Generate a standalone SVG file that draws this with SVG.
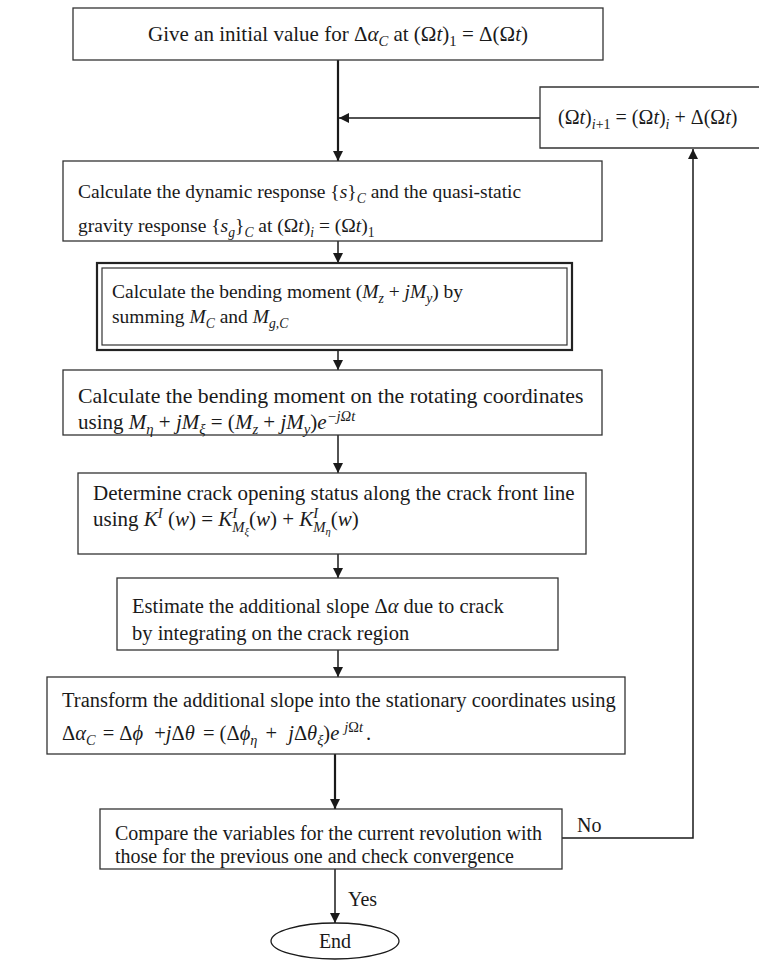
<svg xmlns="http://www.w3.org/2000/svg" width="759" height="971" viewBox="0 0 759 971">
<defs>
<marker id="ah" viewBox="0 0 10 10" refX="10" refY="5" markerWidth="10" markerHeight="11" markerUnits="userSpaceOnUse" orient="auto"><path d="M0,0 L10,5 L0,10 Z" fill="#1a1a1a"/></marker>
<style>
text{font-family:"Liberation Serif","Times New Roman",serif;font-size:20px;fill:#1a1a1a}
.i{font-style:italic}
.s{font-size:70%}
.xs{font-size:50%}
.box{fill:#fff;stroke:#333;stroke-width:1.3}
.ln{fill:none;stroke:#1a1a1a;stroke-width:1.5}
.lt{fill:none;stroke:#1a1a1a;stroke-width:2.2}
</style>
</defs>
<rect width="759" height="971" fill="#fff"/>
<g id="connectors">
<line class="lt" x1="338" y1="60" x2="338" y2="161" marker-end="url(#ah)"/>
<line class="ln" x1="540" y1="118" x2="339" y2="118" marker-end="url(#ah)"/>
<line class="ln" x1="338" y1="241" x2="338" y2="263" marker-end="url(#ah)"/>
<line class="ln" x1="338" y1="350" x2="338" y2="370" marker-end="url(#ah)"/>
<line class="ln" x1="338" y1="435" x2="338" y2="473" marker-end="url(#ah)"/>
<line class="ln" x1="338" y1="554" x2="338" y2="578" marker-end="url(#ah)"/>
<line class="ln" x1="338" y1="650" x2="338" y2="677" marker-end="url(#ah)"/>
<line class="lt" x1="335" y1="754" x2="335" y2="809" marker-end="url(#ah)"/>
<polyline class="ln" points="562,838 693,838 693,149" marker-end="url(#ah)"/>
<line class="ln" x1="335" y1="869" x2="335" y2="923" marker-end="url(#ah)"/>
<text x="577" y="832">No</text>
<text x="348" y="906">Yes</text>
</g>
<g id="n1">
<rect class="box" x="73" y="8" width="530" height="52"/>
<text x="338" y="41" text-anchor="middle" style="font-size:21px">Give an initial value for Δ<tspan class="i">α</tspan><tspan class="i s" dy="5">C</tspan><tspan dy="-5"> at (Ω</tspan><tspan class="i">t</tspan>)<tspan class="s" dy="5">1</tspan><tspan dy="-5"> = Δ(Ω</tspan><tspan class="i">t</tspan>)</text>
</g>
<g id="n_update">
<polyline class="box" points="759,87 540,87 540,148 759,148"/>
<text x="558" y="124" style="font-size:20px">(Ω<tspan class="i">t</tspan>)<tspan class="i s" dy="5">i</tspan><tspan class="s" dy="0">+1</tspan><tspan dy="-5"> = (Ω</tspan><tspan class="i">t</tspan>)<tspan class="i s" dy="5">i</tspan><tspan dy="-5"> + Δ(Ω</tspan><tspan class="i">t</tspan>)</text>
</g>
<g id="n2">
<rect class="box" x="63" y="161" width="539" height="80"/>
<text x="78" y="198" style="font-size:19.5px">Calculate the dynamic response {<tspan class="i">s</tspan>}<tspan class="i s" dy="5">C</tspan><tspan dy="-5"> and the quasi-static</tspan></text>
<text x="78" y="232" style="font-size:19.5px">gravity response {<tspan class="i">s</tspan><tspan class="i s" dy="5">g</tspan><tspan dy="-5">}</tspan><tspan class="i s" dy="5">C</tspan><tspan dy="-5"> at (Ω</tspan><tspan class="i">t</tspan>)<tspan class="i s" dy="5">i</tspan><tspan dy="-5"> = (Ω</tspan><tspan class="i">t</tspan>)<tspan class="s" dy="5">1</tspan></text>
</g>
<g id="n3">
<rect x="97" y="263" width="475" height="87" fill="#fff" stroke="#222" stroke-width="2.2"/>
<rect x="102" y="268" width="465" height="77" fill="none" stroke="#333" stroke-width="1.2"/>
<text x="112" y="298" style="font-size:19.5px">Calculate the bending moment (<tspan class="i">M</tspan><tspan class="i s" dy="5">z</tspan><tspan dy="-5"> + </tspan><tspan class="i">jM</tspan><tspan class="i s" dy="5">y</tspan><tspan dy="-5">) by</tspan></text>
<text x="112" y="323" style="font-size:19.5px">summing <tspan class="i">M</tspan><tspan class="i s" dy="5">C</tspan><tspan dy="-5"> and </tspan><tspan class="i">M</tspan><tspan class="i s" dy="5">g,C</tspan></text>
</g>
<g id="n4">
<rect class="box" x="63" y="370" width="539" height="65"/>
<text x="78" y="403" style="font-size:21.8px">Calculate the bending moment on the rotating coordinates</text>
<text x="78" y="429" style="font-size:21px">using <tspan class="i">M</tspan><tspan class="i s" dy="5">η</tspan><tspan dy="-5"> + </tspan><tspan class="i">jM</tspan><tspan class="i s" dy="5">ξ</tspan><tspan dy="-5"> = (</tspan><tspan class="i">M</tspan><tspan class="i s" dy="5">z</tspan><tspan dy="-5"> + </tspan><tspan class="i">jM</tspan><tspan class="i s" dy="5">y</tspan><tspan dy="-5">)</tspan><tspan class="i">e</tspan><tspan class="i s" dy="-8">−jΩt</tspan></text>
</g>
<g id="n5">
<rect class="box" x="78" y="473" width="508" height="81"/>
<text x="93" y="500" style="font-size:21px">Determine crack opening status along the crack front line</text>
<text x="93" y="526" style="font-size:21px">using <tspan class="i">K</tspan><tspan class="i s" dy="-8">I</tspan><tspan dy="8"> (</tspan><tspan class="i">w</tspan>) = <tspan class="i">K</tspan><tspan class="i s" dy="-8">I</tspan><tspan class="i s" dx="-5" dy="14">M</tspan><tspan class="i xs" dy="3">ξ</tspan><tspan dy="-9">(</tspan><tspan class="i">w</tspan>) + <tspan class="i">K</tspan><tspan class="i s" dy="-8">I</tspan><tspan class="i s" dx="-5" dy="14">M</tspan><tspan class="i xs" dy="3">η</tspan><tspan dy="-9">(</tspan><tspan class="i">w</tspan>)</text>
</g>
<g id="n6">
<rect class="box" x="117" y="578" width="441" height="72"/>
<text x="132" y="613" style="font-size:20.5px">Estimate the additional slope Δ<tspan class="i">α</tspan> due to crack</text>
<text x="132" y="640" style="font-size:20.5px">by integrating on the crack region</text>
</g>
<g id="n7">
<rect class="box" x="47" y="677" width="578" height="77"/>
<text x="62" y="707" style="font-size:20.5px">Transform the additional slope into the stationary coordinates using</text>
<text x="62" y="740" style="font-size:20.5px">Δ<tspan class="i">α</tspan><tspan class="i s" dy="5">C</tspan><tspan dy="-5" dx="2"> = Δ</tspan><tspan class="i">ϕ</tspan><tspan dx="6"> +</tspan><tspan class="i">j</tspan>Δ<tspan class="i">θ</tspan><tspan dx="3"> = (Δ</tspan><tspan class="i">ϕ</tspan><tspan class="i s" dy="5">η</tspan><tspan dy="-5" dx="3"> + </tspan><tspan class="i" dx="6">j</tspan>Δ<tspan class="i">θ</tspan><tspan class="i s" dy="5">ξ</tspan><tspan dy="-5">)</tspan><tspan class="i">e</tspan><tspan class="i s" dx="5" dy="-8">j</tspan><tspan class="s">Ω</tspan><tspan class="i s">t</tspan><tspan dy="8" dx="3">.</tspan></text>
</g>
<g id="n8">
<rect class="box" x="100" y="809" width="462" height="60"/>
<text x="115" y="840" style="font-size:20px">Compare the variables for the current revolution with</text>
<text x="115" y="863" style="font-size:20px">those for the previous one and check convergence</text>
</g>
<g id="end">
<ellipse cx="335" cy="941" rx="64" ry="18" fill="#fff" stroke="#1a1a1a" stroke-width="1.3"/>
<text x="335" y="948" text-anchor="middle">End</text>
</g>
</svg>
